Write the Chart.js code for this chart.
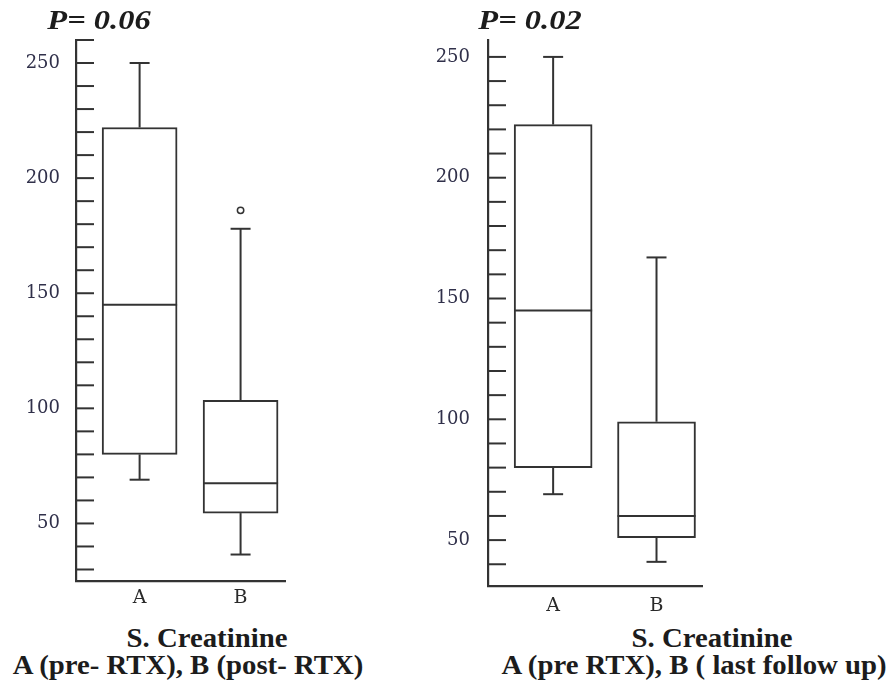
<!DOCTYPE html>
<html>
<head>
<meta charset="utf-8">
<title>S. Creatinine</title>
<script src="https://cdn.jsdelivr.net/npm/chart.js@4.4.0/dist/chart.umd.min.js"></script>
<style>
  body { margin: 0; background: #fff; width: 896px; height: 692px; position: relative; overflow: hidden; }
  canvas { position: absolute; top: 0; }
  .txt { position: absolute; font-family: "Liberation Serif", "Times New Roman", serif; font-weight: bold; color: #1c1c1c;
         white-space: nowrap; line-height: 27px; font-size: 27px; transform-origin: center top; transform: translateX(-50%) scaleX(1.065); }
  .pval { font-style: italic; font-size: 28px; line-height: 28px; transform: translateX(-50%) scaleX(1.16); }
</style>
</head>
<body>
<canvas id="chart-left" width="300" height="620" style="left:0px"></canvas>
<canvas id="chart-right" width="305" height="620" style="left:412px"></canvas>

<div class="txt pval" style="left:99px; top:6px">P= 0.06</div>
<div class="txt pval" style="left:530px; top:6px">P= 0.02</div>

<div class="txt" style="left:207px; top:625px">S. Creatinine</div>
<div class="txt" style="left:188px; top:652px">A (pre- RTX), B (post- RTX)</div>
<div class="txt" style="left:712px; top:625px">S. Creatinine</div>
<div class="txt" style="left:694px; top:652px">A (pre RTX), B ( last follow up)</div>

<script>
const categories = ['A', 'B'];

// Panel izquierdo: A (pre- RTX), B (post- RTX)
const leftMin = [69, 36.5];
const leftQ1 = [80, 54.5];
const leftMedian = [145, 67.5];
const leftQ3 = [222, 103.5];
const leftMax = [250, 178];
const leftOutliers = [[], [186]];

// Panel derecho: A (pre RTX), B (last follow up)
const rightMin = [69, 41];
const rightQ1 = [80, 51];
const rightMedian = [145, 60];
const rightQ3 = [222, 99];
const rightMax = [250, 167];
const rightOutliers = [[], []];

const ink = '#333333';

// Bigotes, medianas y marcas del eje y hacia dentro
function boxExtras(q1, q3, min, median, max) {
    return {
        id: 'boxExtras',
        afterDatasetsDraw(chart) {
            const { ctx, scales: { x, y } } = chart;
            const boxes = chart.getDatasetMeta(0).data;
            const line = (x1, y1, x2, y2) => {
                ctx.beginPath();
                ctx.moveTo(x1, y1);
                ctx.lineTo(x2, y2);
                ctx.stroke();
            };
            ctx.save();
            ctx.strokeStyle = ink;
            ctx.lineWidth = 2;

            y.ticks.forEach(t => {
                const py = y.getPixelForValue(t.value);
                line(x.left, py, x.left + 18, py);
            });

            categories.forEach((c, i) => {
                const px = x.getPixelForValue(i + 1);
                const half = boxes[i].width / 2;
                const pMax = y.getPixelForValue(max[i]);
                const pMin = y.getPixelForValue(min[i]);
                line(px, y.getPixelForValue(q3[i]), px, pMax);
                line(px - 10, pMax, px + 10, pMax);
                line(px, y.getPixelForValue(q1[i]), px, pMin);
                line(px - 10, pMin, px + 10, pMin);
                const pMed = y.getPixelForValue(median[i]);
                line(px - half, pMed, px + half, pMed);
            });
            ctx.restore();
        }
    };
}

function makeChart(id, q1, q3, min, median, max, outliers, yMin, yMax, boxWidth, xHeight, yPad, xPad) {
    const boxes = categories.map((c, i) => ({ x: i + 1, y: [q1[i], q3[i]] }));
    const points = outliers.flatMap((vals, i) => vals.map(v => ({ x: i + 1, y: v })));

    return new Chart(document.getElementById(id), {
        type: 'bar',
        data: {
            datasets: [{
                data: boxes,
                backgroundColor: '#ffffff',
                borderColor: ink,
                borderWidth: 2,
                borderSkipped: false,
                barThickness: boxWidth
            }, {
                type: 'scatter',
                data: points,
                pointRadius: 3.2,
                pointBackgroundColor: '#ffffff',
                pointBorderColor: ink,
                pointBorderWidth: 1.5
            }]
        },
        options: {
            responsive: false,
            animation: false,
            layout: { padding: { top: 40, right: 15, left: 0, bottom: 0 } },
            plugins: { legend: { display: false }, tooltip: { enabled: false } },
            scales: {
                x: {
                    type: 'linear',
                    min: 0.37,
                    max: 2.44,
                    offset: false,
                    afterFit: s => { s.height = xHeight; },
                    grid: { display: false, drawTicks: false },
                    border: { display: true, color: ink, width: 2.2 },
                    ticks: {
                        stepSize: 1,
                        includeBounds: false,
                        autoSkip: false,
                        maxRotation: 0,
                        padding: xPad,
                        color: '#2a2a2a',
                        font: { family: 'DejaVu Serif', size: 19 },
                        callback: v => categories[v - 1] || ''
                    }
                },
                y: {
                    min: yMin,
                    max: yMax,
                    afterFit: s => { s.width = 76; },
                    grid: { display: false, drawTicks: false },
                    border: { display: true, color: ink, width: 2.2 },
                    ticks: {
                        stepSize: 10,
                        includeBounds: false,
                        autoSkip: false,
                        padding: yPad,
                        color: '#30304a',
                        font: { family: 'DejaVu Serif', size: 18 },
                        callback: v => v % 50 === 0 ? v : ''
                    }
                }
            }
        },
        plugins: [boxExtras(q1, q3, min, median, max)]
    });
}

makeChart('chart-left', leftQ1, leftQ3, leftMin, leftMedian, leftMax, leftOutliers, 25, 260, 75, 39, 16, 6);
makeChart('chart-right', rightQ1, rightQ3, rightMin, rightMedian, rightMax, rightOutliers, 31, 257, 78, 34, 18, 9);
</script>
</body>
</html>
